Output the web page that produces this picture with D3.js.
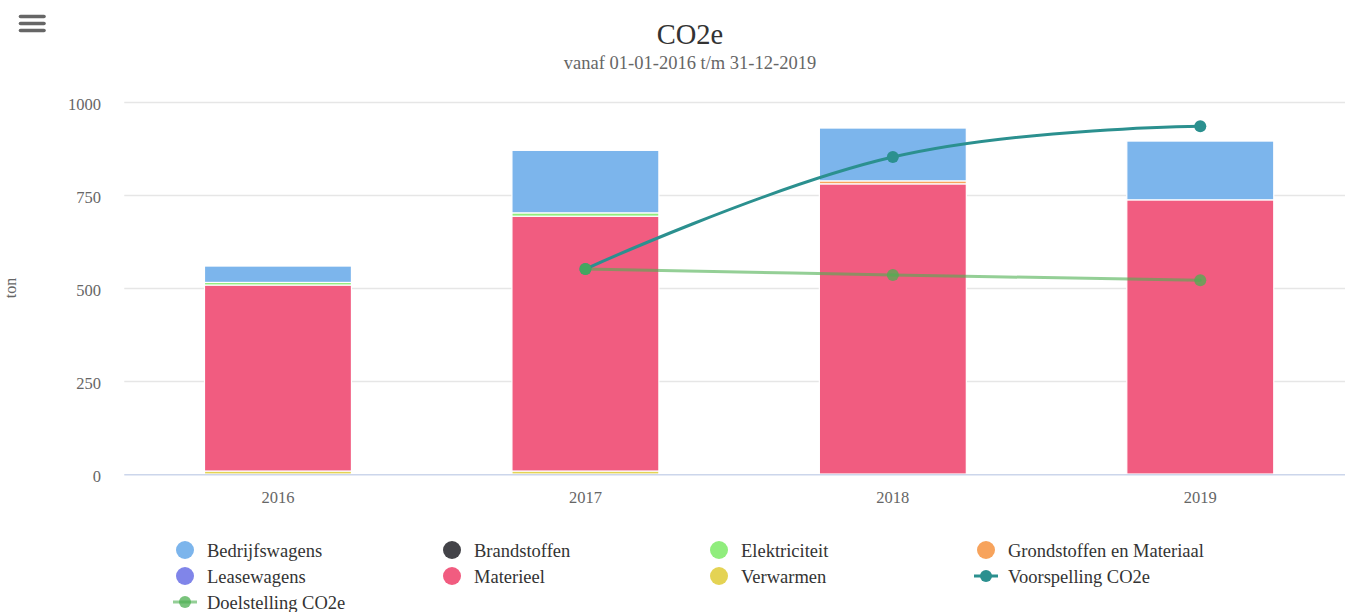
<!DOCTYPE html>
<html>
<head>
<meta charset="utf-8">
<script src="https://cdn.jsdelivr.net/npm/d3@7"></script>
<style>
  html, body { margin: 0; padding: 0; overflow: hidden; background: #fff; }
  svg { display: block; font-family: "Liberation Serif", "Times New Roman", serif; }
</style>
</head>
<body>
<script>
// ---- data ----
const categories = ["2016", "2017", "2018", "2019"];
const bedrijfswagens = [44, 168, 142, 158];
const brandstoffen = [0, 0, 0, 0];
const elektriciteit = [7, 9, 0, 0];
const grondstoffen = [0, 0, 8, 0];
const leasewagens = [0, 0, 0, 0];
const materieel = [500, 685, 780, 737];
const verwarmen = [8, 8, 0, 0];
const voorspelling = [null, 551, 852, 935];
const doelstelling = [null, 551, 535, 521];
const yTicks = [0, 250, 500, 750, 1000];

const titleText = "CO2e";
const subtitleText = "vanaf 01-01-2016 t/m 31-12-2019";
const yTitle = "ton";

const barSeries = [
  { name: "Bedrijfswagens", values: bedrijfswagens, color: "#7cb5ec" },
  { name: "Brandstoffen", values: brandstoffen, color: "#434348" },
  { name: "Elektriciteit", values: elektriciteit, color: "#90ed7d" },
  { name: "Grondstoffen en Materiaal", values: grondstoffen, color: "#f7a35c" },
  { name: "Leasewagens", values: leasewagens, color: "#8085e9" },
  { name: "Materieel", values: materieel, color: "#f15c80" },
  { name: "Verwarmen", values: verwarmen, color: "#e4d354" }
];
const lineSeries = [
  { name: "Voorspelling CO2e", values: voorspelling, color: "#2b908f", lineOpacity: 1, markerOpacity: 1 },
  { name: "Doelstelling CO2e", values: doelstelling, color: "#4caf50", lineOpacity: 0.6, markerOpacity: 0.75 }
];

// ---- layout ----
const W = 1380, H = 612;
const plot = { left: 124.25, right: 1354, top: 102, bottom: 474 };

const svg = d3.select("body").append("svg").attr("width", W).attr("height", H);

const x = d3.scaleBand().domain(categories).range([plot.left, plot.right])
  .paddingInner(0.522).paddingOuter(0.261);
const y = d3.scaleLinear().domain([0, 1000]).range([plot.bottom, plot.top]);

// menu icon
const menu = svg.append("g");
[16.5, 23.5, 30.5].forEach(yy => {
  menu.append("line").attr("x1", 20.5).attr("x2", 44).attr("y1", yy).attr("y2", yy)
    .attr("stroke", "#666").attr("stroke-width", 3.6).attr("stroke-linecap", "round");
});

// title
svg.append("text").attr("x", 690).attr("y", 44).attr("text-anchor", "middle")
  .attr("font-size", 28.5).attr("fill", "#333").text(titleText);
svg.append("text").attr("x", 690).attr("y", 69).attr("text-anchor", "middle")
  .attr("font-size", 18.5).attr("fill", "#666").text(subtitleText);

// gridlines
svg.append("g").selectAll("line").data(yTicks.filter(d => d !== 0)).join("line")
  .attr("x1", plot.left).attr("x2", plot.right)
  .attr("y1", d => Math.round(y(d)) + 0.5).attr("y2", d => Math.round(y(d)) + 0.5)
  .attr("stroke", "#e6e6e6").attr("stroke-width", 1.3);

// y axis labels
const yAxis = d3.axisLeft(y).tickValues(yTicks).tickFormat(d3.format("d")).tickSize(0).tickPadding(0);
const yg = svg.append("g").attr("transform", `translate(${101},0)`).call(yAxis)
  .attr("font-family", null).attr("font-size", null);
yg.select(".domain").remove();
yg.selectAll("text").attr("font-size", 16.5).attr("fill", "#666").attr("dy", "0.45em");

// y title
svg.append("text").attr("transform", `translate(16,${(plot.top + plot.bottom) / 2}) rotate(-90)`)
  .attr("text-anchor", "middle").attr("font-size", 16).attr("fill", "#666").text(yTitle);

// stacked bars (bottom to top: reverse of legend order)
const stackOrder = barSeries.slice().reverse();
const table = categories.map((c, i) => {
  const row = { cat: c };
  stackOrder.forEach(s => { row[s.name] = s.values[i]; });
  return row;
});
const stacked = d3.stack().keys(stackOrder.map(s => s.name))(table);
const colorOf = Object.fromEntries(barSeries.map(s => [s.name, s.color]));

const barsG = svg.append("g");
stacked.forEach(layer => {
  barsG.append("g").attr("fill", colorOf[layer.key])
    .selectAll("rect").data(layer.filter(d => d[1] - d[0] > 0)).join("rect")
    .attr("x", d => x(d.data.cat))
    .attr("width", x.bandwidth())
    .attr("y", d => y(d[1]))
    .attr("height", d => y(d[0]) - y(d[1]))
    .attr("stroke", "#fff").attr("stroke-width", 1.2);
});

// x axis
svg.append("line").attr("x1", plot.left).attr("x2", plot.right)
  .attr("y1", plot.bottom + 0.75).attr("y2", plot.bottom + 0.75)
  .attr("stroke", "#ccd6eb").attr("stroke-width", 1.5);
const xAxis = d3.axisBottom(x).tickSize(0).tickPadding(0);
const xg = svg.append("g").attr("transform", `translate(0,${503})`).call(xAxis)
  .attr("font-family", null).attr("font-size", null);
xg.select(".domain").remove();
xg.selectAll("text").attr("font-size", 16.5).attr("fill", "#666").attr("dy", 0);

// Highcharts-style spline path
function splinePath(pts) {
  const p = d3.path();
  pts.forEach((pt, i) => {
    if (i === 0) { p.moveTo(pt[0], pt[1]); return; }
    const rc = controls(pts, i - 1);
    const lc = controls(pts, i);
    p.bezierCurveTo(rc.rx, rc.ry, lc.lx, lc.ly, pt[0], pt[1]);
  });
  return p.toString();
}
function controls(pts, i) {
  const pt = pts[i], prev = pts[i - 1], next = pts[i + 1];
  if (!prev || !next) return { lx: pt[0], ly: pt[1], rx: pt[0], ry: pt[1] };
  const s = 1.5, den = s + 1;
  let lx = (s * pt[0] + prev[0]) / den, ly = (s * pt[1] + prev[1]) / den;
  let rx = (s * pt[0] + next[0]) / den, ry = (s * pt[1] + next[1]) / den;
  if (rx !== lx) {
    const corr = ((ry - ly) * (rx - pt[0])) / (rx - lx) + pt[1] - ry;
    ly += corr; ry += corr;
  }
  if (ly > prev[1] && ly > pt[1]) { ly = Math.max(prev[1], pt[1]); ry = 2 * pt[1] - ly; }
  else if (ly < prev[1] && ly < pt[1]) { ly = Math.min(prev[1], pt[1]); ry = 2 * pt[1] - ly; }
  if (ry > next[1] && ry > pt[1]) { ry = Math.max(next[1], pt[1]); ly = 2 * pt[1] - ry; }
  else if (ry < next[1] && ry < pt[1]) { ry = Math.min(next[1], pt[1]); ly = 2 * pt[1] - ry; }
  return { lx, ly, rx, ry };
}

const cx = c => x(c) + x.bandwidth() / 2;
lineSeries.forEach(s => {
  const pts = categories.map((c, i) => [c, s.values[i]]).filter(d => d[1] != null)
    .map(d => [cx(d[0]), y(d[1])]);
  svg.append("path").attr("d", splinePath(pts)).attr("fill", "none")
    .attr("stroke", s.color).attr("stroke-opacity", s.lineOpacity)
    .attr("stroke-width", 3).attr("stroke-linejoin", "round").attr("stroke-linecap", "round");
});
lineSeries.forEach(s => {
  const pts = categories.map((c, i) => [c, s.values[i]]).filter(d => d[1] != null);
  svg.append("g").selectAll("circle").data(pts).join("circle")
    .attr("cx", d => cx(d[0])).attr("cy", d => y(d[1])).attr("r", 6)
    .attr("fill", s.color).attr("fill-opacity", s.markerOpacity);
});

// legend
const legendItems = barSeries.map(s => ({ name: s.name, color: s.color, type: "bar" }))
  .concat(lineSeries.map(s => ({ name: s.name, color: s.color, type: "line", lo: s.lineOpacity, mo: s.markerOpacity })));
const colX = [185, 452, 719, 986], rowY = [550, 576, 602];
const lg = svg.append("g");
legendItems.forEach((it, i) => {
  const gx = colX[i % 4], gy = rowY[Math.floor(i / 4)];
  const g = lg.append("g").attr("transform", `translate(${gx},${gy})`);
  if (it.type === "bar") {
    g.append("circle").attr("r", 9).attr("fill", it.color);
  } else {
    g.append("line").attr("x1", -12).attr("x2", 12).attr("stroke", it.color)
      .attr("stroke-opacity", it.lo).attr("stroke-width", 3);
    g.append("circle").attr("r", 6).attr("fill", it.color).attr("fill-opacity", it.mo);
  }
  g.append("text").attr("x", 22).attr("y", 6.5).attr("font-size", 18.5).attr("fill", "#333").text(it.name);
});
</script>
</body>
</html>
